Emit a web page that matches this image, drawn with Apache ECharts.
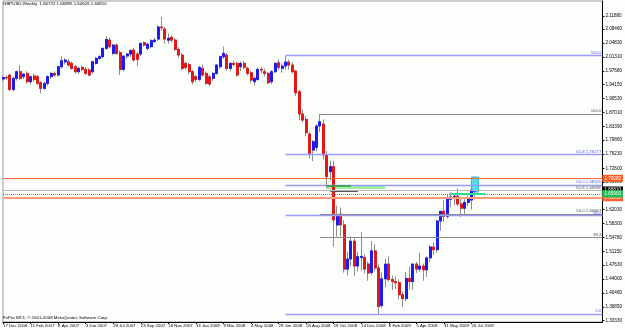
<!DOCTYPE html>
<html>
<head>
<meta charset="utf-8">
<script src="https://cdn.jsdelivr.net/npm/echarts@6/dist/echarts.min.js"></script>
<style>
  html, body { margin: 0; padding: 0; background: #fcfefc; }
  #chart { width: 625px; height: 330px; }
</style>
</head>
<body>
<div id="chart"></div>
<script>
// GBPUSD weekly bars, [open, high, low, close], first bar = week of 17 Dec 2006
const bars2007 = [
  [1.9560, 1.9640, 1.9500, 1.9600], [1.9600, 1.9660, 1.9540, 1.9586], [1.9660, 1.9700, 1.9250, 1.9290], [1.9290, 1.9620, 1.9240, 1.9577],
  [1.9577, 1.9780, 1.9520, 1.9748], [1.9748, 1.9920, 1.9540, 1.9577], [1.9620, 1.9700, 1.9560, 1.9688], [1.9705, 1.9760, 1.9440, 1.9490],
  [1.9490, 1.9650, 1.9420, 1.9620], [1.9640, 1.9700, 1.9500, 1.9550], [1.9620, 1.9660, 1.9400, 1.9450], [1.9465, 1.9500, 1.9190, 1.9320],
  [1.9320, 1.9480, 1.9280, 1.9448], [1.9448, 1.9660, 1.9390, 1.9620], [1.9620, 1.9740, 1.9560, 1.9705], [1.9705, 1.9760, 1.9610, 1.9662],
  [1.9662, 1.9900, 1.9620, 1.9877], [1.9877, 2.0150, 1.9830, 2.0032], [2.0000, 2.0100, 1.9930, 2.0049], [2.0006, 2.0080, 1.9880, 1.9920],
  [1.9963, 2.0010, 1.9800, 1.9834], [1.9877, 1.9920, 1.9700, 1.9748], [1.9748, 1.9880, 1.9690, 1.9834], [1.9860, 1.9910, 1.9760, 1.9808],
  [1.9808, 1.9870, 1.9660, 1.9705], [1.9791, 1.9840, 1.9630, 1.9662], [1.9748, 2.0030, 1.9700, 2.0006], [1.9963, 2.0130, 1.9930, 2.0092],
  [2.0092, 2.0180, 2.0050, 2.0135], [2.0135, 2.0370, 2.0090, 2.0350], [2.0350, 2.0667, 2.0310, 2.0581], [2.0564, 2.0640, 2.0350, 2.0393],
  [2.0220, 2.0460, 2.0180, 2.0435], [2.0435, 2.0480, 2.0180, 2.0220], [2.0238, 2.0290, 1.9662, 1.9808], [1.9808, 2.0160, 1.9760, 2.0152],
  [2.0152, 2.0230, 2.0080, 2.0204], [2.0204, 2.0330, 2.0130, 2.0290], [2.0307, 2.0370, 2.0010, 2.0049], [2.0204, 2.0260, 1.9890, 2.0066],
  [2.0204, 2.0500, 2.0150, 2.0478], [2.0495, 2.0530, 2.0390, 2.0435], [2.0350, 2.0490, 2.0300, 2.0461], [2.0393, 2.0590, 2.0350, 2.0547],
  [2.0530, 2.0630, 2.0480, 2.0564], [2.0590, 2.0950, 2.0540, 2.0899], [2.0899, 2.1161, 2.0800, 2.0880], [2.0850, 2.0900, 2.0480, 2.0590],
  [2.0560, 2.0740, 2.0470, 2.0610], [2.0633, 2.0690, 2.0500, 2.0564], [2.0564, 2.0620, 2.0280, 2.0324], [2.0324, 2.0380, 2.0110, 2.0178],
  [2.0178, 2.0230, 1.9780, 1.9834], [1.9963, 2.0010, 1.9800, 1.9860], [1.9930, 1.9990, 1.9680, 1.9748]
]
const bars2008 = [
  [1.9748, 1.9800, 1.9420, 1.9490], [1.9620, 1.9680, 1.9480, 1.9550], [1.9550, 1.9900, 1.9500, 1.9860], [1.9834, 1.9930, 1.9620, 1.9662],
  [1.9705, 1.9750, 1.9400, 1.9448], [1.9620, 1.9670, 1.9380, 1.9430], [1.9577, 1.9740, 1.9510, 1.9705], [1.9705, 1.9950, 1.9660, 1.9920],
  [1.9877, 2.0160, 1.9830, 2.0135], [2.0135, 2.0396, 2.0080, 2.0221], [2.0178, 2.0230, 1.9780, 1.9834], [1.9834, 1.9990, 1.9750, 1.9963],
  [1.9963, 2.0030, 1.9880, 1.9937], [1.9963, 2.0010, 1.9620, 1.9662], [1.9877, 2.0010, 1.9760, 1.9963], [1.9963, 2.0030, 1.9810, 1.9860],
  [1.9834, 1.9880, 1.9650, 1.9705], [1.9722, 1.9780, 1.9450, 1.9533], [1.9490, 1.9620, 1.9390, 1.9577], [1.9550, 1.9850, 1.9510, 1.9808],
  [1.9808, 1.9870, 1.9710, 1.9791], [1.9748, 1.9830, 1.9630, 1.9705], [1.9705, 1.9750, 1.9420, 1.9465], [1.9490, 1.9790, 1.9430, 1.9748],
  [1.9748, 1.9990, 1.9710, 1.9963], [1.9980, 2.0066, 1.9800, 1.9860], [1.9834, 1.9960, 1.9720, 1.9894], [1.9894, 2.0161, 1.9800, 1.9997],
  [1.9997, 2.0060, 1.9800, 1.9920], [1.9920, 1.9990, 1.9700, 1.9748], [1.9765, 1.9800, 1.9120, 1.9207], [1.9232, 1.9280, 1.8500, 1.8657],
  [1.8657, 1.8780, 1.8440, 1.8502], [1.8520, 1.8600, 1.8080, 1.8176], [1.8142, 1.8200, 1.7514, 1.7643], [1.7729, 1.7990, 1.7446, 1.7944],
  [1.7800, 1.8400, 1.7700, 1.8348], [1.8348, 1.8658, 1.8200, 1.8460], [1.8400, 1.8520, 1.7480, 1.7600], [1.7600, 1.7700, 1.6742, 1.7043],
  [1.7170, 1.7460, 1.6950, 1.7300], [1.7300, 1.7450, 1.5239, 1.5926], [1.5797, 1.6300, 1.5496, 1.6055], [1.6080, 1.6250, 1.5500, 1.5800],
  [1.5800, 1.5920, 1.4570, 1.4660], [1.4660, 1.5100, 1.4500, 1.4920], [1.4920, 1.5500, 1.4740, 1.5380], [1.5380, 1.5450, 1.4490, 1.4740],
  [1.4740, 1.5100, 1.4600, 1.4980], [1.4960, 1.5620, 1.4620, 1.4990], [1.4960, 1.5050, 1.4550, 1.4660], [1.4790, 1.4850, 1.4360, 1.4560]
]
const bars2009 = [
  [1.4570, 1.5380, 1.4500, 1.5130], [1.5130, 1.5300, 1.4600, 1.4690], [1.4690, 1.4780, 1.3503, 1.3700], [1.3720, 1.4580, 1.3650, 1.4410],
  [1.4410, 1.4930, 1.4200, 1.4790], [1.4790, 1.4990, 1.4340, 1.4390], [1.4390, 1.4490, 1.4120, 1.4340], [1.4340, 1.4470, 1.4150, 1.4310],
  [1.4310, 1.4400, 1.3880, 1.4000], [1.4000, 1.4080, 1.3680, 1.3900], [1.3900, 1.4590, 1.3830, 1.4420], [1.4420, 1.4720, 1.4140, 1.4340],
  [1.4340, 1.4810, 1.4120, 1.4790], [1.4790, 1.4840, 1.4560, 1.4660], [1.4660, 1.5080, 1.4600, 1.4740], [1.4740, 1.4800, 1.4360, 1.4640],
  [1.4640, 1.4990, 1.4460, 1.4950], [1.4950, 1.5280, 1.4840, 1.5230], [1.5230, 1.5350, 1.5030, 1.5160], [1.5160, 1.5930, 1.5080, 1.5900],
  [1.5900, 1.6160, 1.5650, 1.6150], [1.6150, 1.6440, 1.5880, 1.6020], [1.6020, 1.6600, 1.5960, 1.6460], [1.6460, 1.6640, 1.6250, 1.6520],
  [1.6520, 1.6620, 1.6300, 1.6540], [1.6540, 1.6744, 1.6290, 1.6340], [1.6340, 1.6520, 1.6000, 1.6230], [1.6230, 1.6460, 1.6060, 1.6380],
  [1.6380, 1.6560, 1.6280, 1.6470], [1.6440, 1.6720, 1.6200, 1.6700], [1.66722, 1.66895, 1.64626, 1.66810]
]

// date labels under the chart, one every 8 weeks
const tickDates = ['17 Dec 2006', '11 Feb 2007', '8 Apr 2007', '3 Jun 2007', '29 Jul 2007', '23 Sep 2007',
  '18 Nov 2007', '13 Jan 2008', '9 Mar 2008', '4 May 2008', '29 Jun 2008', '24 Aug 2008',
  '19 Oct 2008', '14 Dec 2008', '8 Feb 2009', '5 Apr 2009', '31 May 2009', '26 Jul 2009']
const priceTicks = ['2.11880', '2.08460', '2.04830', '2.01310', '1.97680', '1.94150', '1.90530', '1.87010',
  '1.83390', '1.79860', '1.76230', '1.72600', '1.69080', '1.65550', '1.62030', '1.58300', '1.54780',
  '1.51150', '1.47630', '1.44000', '1.40480', '1.36850', '1.33330']

// fibonacci retracements (blue from Jul 2008 high, gray from Sep 2008 high)
const blueFibLevels = [2.01611, 1.76177, 1.68320, 1.60464, 1.35030]
const blueFibText = ['100.0', '61.8 1.76177', '50.0 1.68320', '38.2', '0.0']
const grayFibLevels = [1.86583, 1.66890, 1.60807, 1.54724]
const grayFibText = ['100.0', '61.8 1.66890', '50.0 1.60807', '38.2']
const blueFibWeek = 82
const grayFibWeek = 92

// horizontal lines across the whole chart
const resistLine = 1.70080
const bidLine = 1.66810
const greenLine = 1.66000
const supportLine = 1.65050
const tealLine = 1.65900
const tealWeeks = [130, 140]
const greenBox = { weeks: [94, 111], prices: [1.6828, 1.6725] }
const cyanBox = { weeks: [136, 138], prices: [1.7034, 1.6647] }

const bars = bars2007.concat(bars2008, bars2009)
const totalWeeks = 175
const lastWeek = totalWeeks - 1
const weeks = []
for (let i = 0; i < totalWeeks; i++) weeks.push(String(i))

const bullColor = '#1c1cf0'
const bearColor = '#e01818'
const wickColor = '#8f8f8f'

let wickData = bars.map(b => [b[0], b[3], b[2], b[1]])
let bodyData = bars.map(b => [b[0], b[3], Math.min(b[0], b[3]), Math.max(b[0], b[3])])

const fibLine = (from, price, text, color, textColor, width) => [
  {
    coord: [from, price],
    lineStyle: { color: color, width: width, type: 'solid' },
    label: { show: true, position: 'insideEndTop', formatter: text, color: textColor, fontSize: 4.3, distance: 1 }
  },
  { coord: [lastWeek, price] }
]
const boxLine = (price, color, boxColor, width, type) => ({
  yAxis: price,
  lineStyle: { color: color, width: width, type: type },
  label: {
    show: true, position: 'end', formatter: price.toFixed(5), color: '#fff',
    backgroundColor: boxColor, fontSize: 4.6, padding: [1, 2], distance: 0
  }
})

let markLines = []
blueFibLevels.forEach((p, i) => markLines.push(fibLine(blueFibWeek, p, blueFibText[i], '#9a9aff', '#5c5cf0', 1.4)))
grayFibLevels.forEach((p, i) => markLines.push(fibLine(grayFibWeek, p, grayFibText[i], '#8a8a8a', '#555', 1)))
markLines.push(boxLine(resistLine, '#ff6a33', '#ff5a22', 1.2, 'solid'))
markLines.push(boxLine(bidLine, '#b8b8b8', '#000', 1, 'solid'))
markLines.push(boxLine(greenLine, '#4aa64a', '#1f8f1f', 1, 'dotted'))
markLines.push(boxLine(supportLine, '#ff9b78', '#ff6030', 2, 'solid'))
// price box of the teal segment sits on the axis, its line only spans a few weeks
let tealBox = boxLine(tealLine, 'rgba(0,0,0,0)', '#22bb55', 1, 'solid')
markLines.push(tealBox)
markLines.push([
  { coord: [tealWeeks[0], tealLine], lineStyle: { color: '#33dd99', width: 2, type: 'solid' }, label: { show: false } },
  { coord: [tealWeeks[1], tealLine] }
])
// dark edges drawn over the green zone
markLines.push([
  { coord: [greenBox.weeks[0], 1.6805], lineStyle: { color: '#2e9e2e', width: 1.5, type: 'solid' }, label: { show: false } },
  { coord: [101, 1.6805] }
])
markLines.push([
  { coord: [95, 1.6673], lineStyle: { color: '#555', width: 1, type: 'solid' }, label: { show: false } },
  { coord: [103, 1.6673] }
])

let option = {
  animation: false,
  backgroundColor: '#fcfefc',
  grid: { left: 2, right: 17, top: 1, bottom: 8, show: true, borderColor: '#9a9a9a', borderWidth: 1 },
  xAxis: {
    type: 'category',
    data: weeks,
    boundaryGap: false,
    axisLine: { show: true, lineStyle: { color: '#000' } },
    axisTick: { show: true, length: 2, interval: (i) => i % 8 === 0 && i <= 136, lineStyle: { color: '#000' } },
    axisLabel: {
      interval: (i) => i % 8 === 0 && i <= 136,
      formatter: (v, i) => tickDates[i / 8] || '',
      align: 'left',
      fontSize: 4.3,
      margin: 2,
      color: '#000',
      fontFamily: 'Liberation Sans'
    },
    splitLine: { show: false }
  },
  yAxis: {
    type: 'value',
    position: 'right',
    min: 1.3297,
    max: 2.1571,
    splitLine: { show: false },
    axisLine: { show: true, lineStyle: { color: '#000' } },
    axisTick: { show: true, length: 2, customValues: priceTicks.map(Number), lineStyle: { color: '#000' } },
    axisLabel: {
      customValues: priceTicks.map(Number),
      formatter: (v) => v.toFixed(5),
      fontSize: 4.6,
      margin: 3,
      color: '#000',
      fontFamily: 'Liberation Sans'
    }
  },
  graphic: [
    {
      type: 'text', left: 3, top: 2,
      style: {
        text: 'GBPUSD,Weekly  ' + bars[bars.length - 1].map(v => v.toFixed(5)).join(' '),
        font: '4.4px "Liberation Sans"', fill: '#000'
      }
    },
    {
      type: 'text', left: 3, top: 316,
      style: { text: 'FxPro MT4, © 2001-2008 MetaQuotes Software Corp.', font: '4.4px "Liberation Sans"', fill: '#000' }
    }
  ],
  series: [
    {
      name: 'wicks',
      type: 'candlestick',
      data: wickData,
      barWidth: 2.5,
      itemStyle: { color: bullColor, color0: bearColor, borderColor: wickColor, borderColor0: wickColor, borderWidth: 1 },
      markArea: {
        silent: true,
        data: [
          [{ coord: [greenBox.weeks[0], greenBox.prices[0]], itemStyle: { color: '#9cf09c' } }, { coord: [greenBox.weeks[1], greenBox.prices[1]] }],
          [{ coord: [cyanBox.weeks[0], cyanBox.prices[0]], itemStyle: { color: '#52dcee', borderColor: '#2bb8c8', borderWidth: 1 } }, { coord: [cyanBox.weeks[1], cyanBox.prices[1]] }]
        ]
      },
      markLine: { silent: true, symbol: 'none', animation: false, data: markLines }
    },
    {
      name: 'bodies',
      type: 'candlestick',
      data: bodyData,
      barWidth: 2.5,
      silent: true,
      itemStyle: { color: bullColor, color0: bearColor, borderColor: bullColor, borderColor0: bearColor, borderWidth: 1 }
    }
  ]
}

let chart = echarts.init(document.getElementById('chart'))
chart.setOption(option)
</script>
</body>
</html>
